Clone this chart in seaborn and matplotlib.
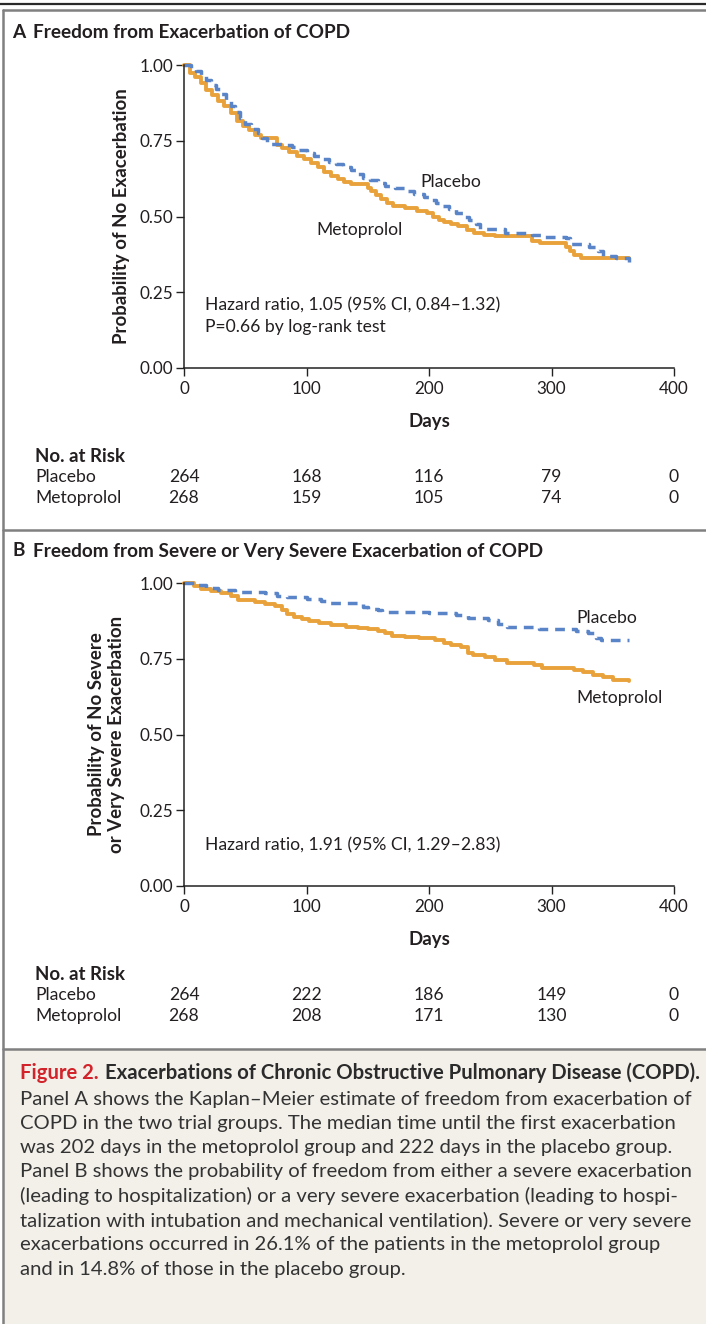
import matplotlib
matplotlib.use("Agg")
import matplotlib.pyplot as plt
import matplotlib.transforms as mtransforms
from matplotlib.patches import Rectangle
from matplotlib.lines import Line2D
import seaborn as sns
import pandas as pd

# ---------------- data ----------------
days_ticks = [0, 100, 200, 300, 400]
prob_ticks = [0.00, 0.25, 0.50, 0.75, 1.00]

a_meto_t = [0,5,9,14,18,23,28,33,38,43,48,53,58,63,76,80,86,92,98,104,109,114,120,126,131,136,150,153,157,161,166,171,180,190,198,203,208,212,218,224,231,237,245,254,284,291,312,315,318,324,363]
a_meto_s = [1.0,.975,.96,.94,.917,.90,.88,.865,.84,.815,.80,.785,.77,.76,.735,.725,.712,.70,.69,.675,.662,.648,.635,.625,.615,.608,.595,.585,.57,.558,.545,.535,.527,.518,.51,.50,.49,.483,.475,.467,.455,.445,.44,.436,.42,.414,.40,.385,.373,.362,.362]
a_plac_t = [0,6,10,14,18,22,26,30,34,38,42,46,50,55,60,64,68,82,88,94,100,106,112,118,124,130,136,141,146,152,158,164,172,180,188,196,201,206,211,216,222,228,233,238,242,262,284,292,312,315,331,338,342,353,363]
a_plac_s = [1.0,.99,.98,.965,.95,.935,.92,.905,.885,.865,.845,.825,.805,.79,.775,.76,.74,.735,.728,.72,.71,.70,.69,.68,.672,.664,.655,.64,.627,.62,.61,.60,.593,.585,.575,.565,.555,.545,.535,.525,.512,.50,.49,.475,.458,.447,.44,.432,.428,.408,.40,.385,.37,.362,.351]

b_meto_t = [0,8,14,22,30,38,44,58,66,74,80,84,90,96,102,110,120,132,142,150,158,164,170,180,192,205,212,218,226,232,236,246,254,264,286,292,318,326,334,342,350,363]
b_meto_s = [1.0,.99,.98,.975,.968,.958,.945,.938,.932,.925,.91,.898,.887,.88,.873,.867,.86,.855,.85,.848,.843,.835,.826,.822,.817,.812,.803,.797,.79,.77,.762,.755,.745,.737,.73,.72,.713,.705,.697,.69,.68,.677]
b_plac_t = [0,10,18,28,42,66,76,84,100,112,117,146,150,158,162,200,222,232,248,256,264,290,320,330,336,340,363]
b_plac_s = [1.0,.993,.985,.978,.971,.966,.957,.953,.948,.94,.933,.922,.915,.91,.905,.902,.895,.885,.877,.866,.855,.847,.843,.835,.82,.812,.812]

risk_groups = ["Placebo", "Metoprolol"]
a_risk_placebo = [264, 168, 116, 79, 0]
a_risk_meto = [268, 159, 105, 74, 0]
b_risk_placebo = [264, 222, 186, 149, 0]
b_risk_meto = [268, 208, 171, 130, 0]

caption_lines = [
    "Panel A shows the Kaplan\u2013Meier estimate of freedom from exacerbation of",
    "COPD in the two trial groups. The median time until the first exacerbation",
    "was 202 days in the metoprolol group and 222 days in the placebo group.",
    "Panel B shows the probability of freedom from either a severe exacerbation",
    "(leading to hospitalization) or a very severe exacerbation (leading to hospi-",
    "talization with intubation and mechanical ventilation). Severe or very severe",
    "exacerbations occurred in 26.1% of the patients in the metoprolol group",
    "and in 14.8% of those in the placebo group.",
]

# ---------------- style ----------------
sns.set_theme(style="white")
FONT = ["Lato", "DejaVu Sans"]
plt.rcParams["font.family"] = FONT
TXT = "#231f20"
ORANGE = "#E9A23B"
BLUE = "#5A84C8"
FS_TICK = 12.3
FS_REG = 12.6
FS_BOLD = 13.4
FS_TITLE = 13.7
FS_CAP = 14.6

W, H = 706, 1324
fig = plt.figure(figsize=(W / 100, H / 100), dpi=100)
fig.patch.set_facecolor("white")
pix = mtransforms.Affine2D().scale(1 / W, -1 / H).translate(0, 1) + fig.transFigure

# frame / decorations
fig.add_artist(Rectangle((4, 1050), W - 4, H - 1050, transform=pix, facecolor="#F3F0EA",
                         edgecolor="none", zorder=0))
fig.add_artist(Line2D([0, W], [4, 4], transform=pix, color="#2a2a2a", lw=1.6))
for ys in (10, 530, 1049):
    fig.add_artist(Line2D([3, W], [ys, ys], transform=pix, color="#808080", lw=1.8))
fig.add_artist(Line2D([3, 3], [10, H], transform=pix, color="#808080", lw=1.8))


def make_axes(top_px):
    left, right = 184, 674
    bottom = top_px + 303
    ax = fig.add_axes([left / W, 1 - bottom / H, (right - left) / W, 303 / H])
    return ax


def style_axes(ax):
    ax.set_xlim(0, 400)
    ax.set_ylim(0, 1)
    ax.set_xticks(days_ticks)
    ax.set_yticks(prob_ticks)
    ax.set_xticklabels([str(d) for d in days_ticks])
    ax.set_yticklabels([f"{p:.2f}" for p in prob_ticks])
    for s in ("top", "right"):
        ax.spines[s].set_visible(False)
    for s in ("left", "bottom"):
        ax.spines[s].set_color("#222222")
        ax.spines[s].set_linewidth(1.1)
    ax.tick_params(axis="y", left=True, direction="out", length=6, width=1.0, color="#222222",
                   pad=2, labelsize=FS_TICK, labelcolor=TXT)
    ax.tick_params(axis="x", bottom=True, direction="out", length=5.5, width=1.0, color="#222222",
                   pad=3.5, labelsize=FS_TICK, labelcolor=TXT)
    ax.set_xlabel("Days", fontsize=FS_BOLD, fontweight="bold", color=TXT, labelpad=12)
    ax.set_facecolor("none")
    ax.grid(False)


def draw_curves(ax, mt, ms, pt, ps):
    dm = pd.DataFrame({"Days": mt, "Prob": ms})
    dp = pd.DataFrame({"Days": pt, "Prob": ps})
    sns.lineplot(data=dm, x="Days", y="Prob", ax=ax, estimator=None, sort=False,
                 drawstyle="steps-post", color=ORANGE, linewidth=2.8, clip_on=False)
    sns.lineplot(data=dp, x="Days", y="Prob", ax=ax, estimator=None, sort=False,
                 drawstyle="steps-post", color=BLUE, linewidth=2.5,
                 linestyle=(0, (2.8, 2.0)), clip_on=False)


def risk_table(ax, y_head, pl, me):
    tr = mtransforms.blended_transform_factory(ax.transData, pix)
    fig.text(35, y_head, "No. at Risk", transform=pix, fontsize=FS_BOLD, fontweight="bold",
             color=TXT, va="center", ha="left")
    for gi, (g, vals) in enumerate(zip(risk_groups, (pl, me))):
        yy = y_head + 21 + gi * 21
        fig.text(35, yy, g, transform=pix, fontsize=FS_REG, color=TXT, va="center", ha="left")
        for d, v in zip(days_ticks, vals):
            ax.text(d, yy, str(v), transform=tr, fontsize=FS_REG, color=TXT, va="center",
                    ha="center", clip_on=False)


# ---------------- Panel A ----------------
fig.text(12, 33, "A", transform=pix, fontsize=FS_TITLE, fontweight="bold", color=TXT, va="center")
fig.text(33, 33, "Freedom from Exacerbation of COPD", transform=pix, fontsize=FS_TITLE,
         fontweight="bold", color=TXT, va="center")
axA = make_axes(65)
draw_curves(axA, a_meto_t, a_meto_s, a_plac_t, a_plac_s)
style_axes(axA)
axA.set_ylabel("Probability of No Exacerbation", fontsize=FS_BOLD, fontweight="bold", color=TXT)
axA.yaxis.set_label_coords(-0.11, 0.5)
axA.text(193, 0.615, "Placebo", fontsize=FS_REG, color=TXT, va="center", ha="left")
axA.text(108, 0.455, "Metoprolol", fontsize=FS_REG, color=TXT, va="center", ha="left")
axA.text(17, 0.208, "Hazard ratio, 1.05 (95% CI, 0.84\u20131.32)", fontsize=FS_REG, color=TXT,
         va="center", ha="left")
axA.text(17, 0.135, "P=0.66 by log-rank test", fontsize=FS_REG, color=TXT, va="center", ha="left")
risk_table(axA, 456, a_risk_placebo, a_risk_meto)

# ---------------- Panel B ----------------
fig.text(12, 551, "B", transform=pix, fontsize=FS_TITLE, fontweight="bold", color=TXT, va="center")
fig.text(33, 551, "Freedom from Severe or Very Severe Exacerbation of COPD", transform=pix,
         fontsize=FS_TITLE, fontweight="bold", color=TXT, va="center")
axB = make_axes(583)
draw_curves(axB, b_meto_t, b_meto_s, b_plac_t, b_plac_s)
style_axes(axB)
axB.set_ylabel("Probability of No Severe\nor Very Severe Exacerbation", fontsize=FS_BOLD,
               fontweight="bold", color=TXT, linespacing=1.2)
axB.yaxis.set_label_coords(-0.12, 0.5)
axB.text(320, 0.885, "Placebo", fontsize=FS_REG, color=TXT, va="center", ha="left")
axB.text(320, 0.62, "Metoprolol", fontsize=FS_REG, color=TXT, va="center", ha="left")
axB.text(17, 0.135, "Hazard ratio, 1.91 (95% CI, 1.29\u20132.83)", fontsize=FS_REG, color=TXT,
         va="center", ha="left")
risk_table(axB, 974, b_risk_placebo, b_risk_meto)

# ---------------- caption ----------------
t1 = fig.text(20, 1073, "Figure 2.", transform=pix, fontsize=FS_CAP, fontweight="bold",
              color="#D2232A", va="center", ha="left")
fig.canvas.draw()
bb = t1.get_window_extent(renderer=fig.canvas.get_renderer())
x_next = bb.x1 + 6
fig.text(x_next / W, 1 - 1073 / H, "Exacerbations of Chronic Obstructive Pulmonary Disease (COPD).",
         fontsize=FS_CAP, fontweight="bold", color="#2b2b2b", va="center", ha="left")
for i, line in enumerate(caption_lines):
    fig.text(20, 1099 + i * 24.3, line, transform=pix, fontsize=FS_CAP, color="#333333",
             va="center", ha="left")

fig.savefig("out.png", dpi=100, facecolor=fig.get_facecolor())
